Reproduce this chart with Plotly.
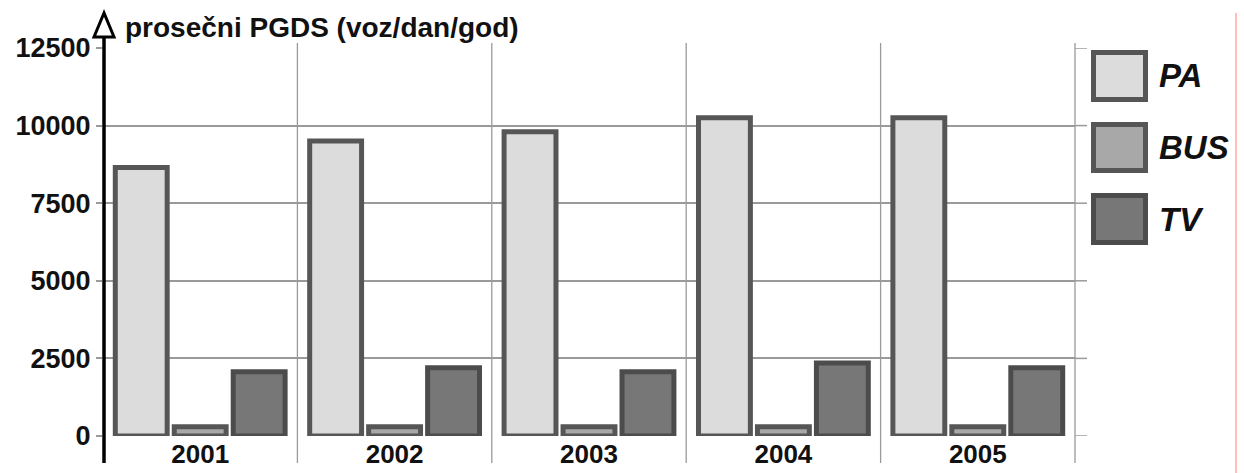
import plotly.graph_objects as go

# Average annual daily traffic by vehicle class
years = ["2001", "2002", "2003", "2004", "2005"]
pa = [8650, 9500, 9800, 10250, 10250]
bus = [300, 300, 300, 300, 300]
tv = [2070, 2200, 2070, 2350, 2200]

series_names = ["PA", "BUS", "TV"]
series_values = [pa, bus, tv]
fill_colors = ["#dcdcdc", "#a8a8a8", "#777777"]
edge_colors = ["#565656", "#565656", "#4c4c4c"]

y_ticks = [0, 2500, 5000, 7500, 10000, 12500]
y_tick_text = ["0", "2500", "5000", "7500", "10000", "12500"]
y_title = "prosečni PGDS (voz/dan/god)"

W, H = 1244, 473
ML, MR, MT, MB = 103, 169, 48, 37
PW = W - ML - MR
PH = H - MT - MB

FONT = "Liberation Sans, Arial, sans-serif"
GRID = "#9a9a9a"
INK = "#111111"


def px_x(px):
    """Horizontal pixel position -> paper coordinate."""
    return (px - ML) / PW


def px_y(py):
    """Vertical pixel position (from top) -> paper coordinate."""
    return (H - MB - py) / PH


fig = go.Figure()
for name, vals, fc, ec in zip(series_names, series_values, fill_colors, edge_colors):
    fig.add_trace(go.Bar(
        x=years, y=vals, name=name,
        marker=dict(color=fc, line=dict(color=ec, width=5)),
        showlegend=False,
    ))

shapes = []

# horizontal grid overhang to the right of the plot area
for v in y_ticks:
    shapes.append(dict(type="line", xref="paper", yref="y",
                       x0=1, x1=px_x(1087), y0=v, y1=v,
                       line=dict(color=GRID, width=1.5), layer="below"))

# vertical separators between year groups
n = len(years)
for k in range(1, n + 1):
    shapes.append(dict(type="line", xref="paper", yref="paper",
                       x0=k / n, x1=k / n, y0=px_y(463), y1=px_y(43),
                       line=dict(color=GRID, width=1.3), layer="below"))

# value axis drawn as a thick arrow
ax_x = px_x(104)
shapes.append(dict(type="line", xref="paper", yref="paper",
                   x0=ax_x, x1=ax_x, y0=px_y(463), y1=px_y(37),
                   line=dict(color="black", width=3.5)))
tri = "M {:.5f},{:.5f} L {:.5f},{:.5f} L {:.5f},{:.5f} Z".format(
    px_x(104), px_y(13), px_x(94), px_y(37), px_x(114), px_y(37))
shapes.append(dict(type="path", xref="paper", yref="paper", path=tri,
                   fillcolor="white", line=dict(color="black", width=3)))

# legend boxes
legend_rows = [(50, 102), (122, 173), (193, 245)]
annotations = []
for (top, bot), name, fc, ec in zip(legend_rows, series_names, fill_colors, edge_colors):
    shapes.append(dict(type="rect", xref="paper", yref="paper",
                       x0=px_x(1093.5), x1=px_x(1145.5),
                       y0=px_y(bot - 2.5), y1=px_y(top + 2.5),
                       fillcolor=fc, line=dict(color=ec, width=5)))
    annotations.append(dict(xref="paper", yref="paper",
                            x=px_x(1157), y=px_y((top + bot) / 2),
                            xanchor="left", yanchor="middle", showarrow=False,
                            text="<b><i>" + name + "</i></b>",
                            font=dict(family=FONT, size=33, color=INK)))

# thin red frame edge on the right
shapes.append(dict(type="line", xref="paper", yref="paper",
                   x0=px_x(1236), x1=px_x(1236), y0=px_y(474), y1=px_y(13),
                   line=dict(color="#ff7a7a", width=1)))

annotations.append(dict(xref="paper", yref="paper",
                        x=px_x(123), y=px_y(28),
                        xanchor="left", yanchor="middle", showarrow=False,
                        text="<b>" + y_title + "</b>",
                        font=dict(family=FONT, size=28, color=INK)))

fig.update_layout(
    width=W, height=H,
    margin=dict(l=ML, r=MR, t=MT, b=MB, pad=0),
    paper_bgcolor="white", plot_bgcolor="white",
    barmode="group", bargap=0.09, bargroupgap=0.12,
    shapes=shapes, annotations=annotations,
    showlegend=False,
    font=dict(family=FONT, color=INK),
)
fig.update_xaxes(
    type="category", range=[-0.5, n - 0.5], automargin=False,
    showgrid=False, zeroline=False, showline=False,
    ticks="", ticklen=0,
    tickfont=dict(family=FONT, size=26, color=INK, weight="bold"),
)
fig.update_yaxes(
    range=[0, 12500], tickvals=y_ticks, ticktext=y_tick_text, automargin=False,
    showgrid=True, gridcolor=GRID, gridwidth=1.5,
    zeroline=False, showline=False,
    ticks="outside", ticklen=6, tickcolor=GRID, tickwidth=1.5,
    tickfont=dict(family=FONT, size=27, color=INK, weight="bold"),
)

fig.write_html("out.html")
